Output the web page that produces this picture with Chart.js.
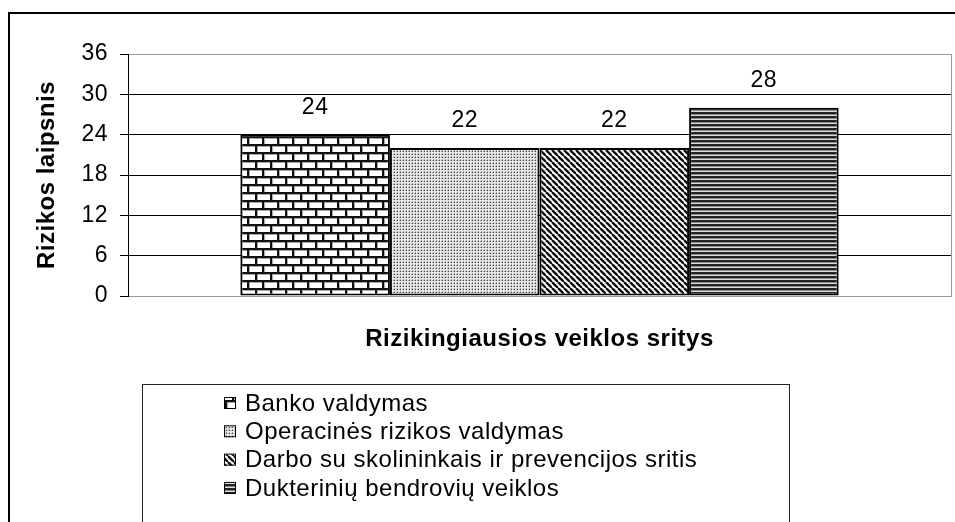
<!DOCTYPE html>
<html>
<head>
<meta charset="utf-8">
<script src="https://cdn.jsdelivr.net/npm/chart.js@4.4.0/dist/chart.umd.min.js"></script>
<style>
  html, body { margin: 0; padding: 0; background: #fff; }
  canvas { display: block; }
</style>
</head>
<body>
<canvas id="chartRizika" width="955" height="522"></canvas>
<script>
// data
const categories = [''];
const seriesNames = [
    'Banko valdymas',
    'Operacinės rizikos valdymas',
    'Darbo su skolininkais ir prevencijos sritis',
    'Dukterinių bendrovių veiklos'
];
const seriesValues = [24, 22, 22, 28];
const yTicks = [0, 6, 12, 18, 24, 30, 36];

const FONT = 'Arial, "Liberation Sans", sans-serif';

// ---- hatch patterns (Excel style) ----
function makeTile(w, h, draw) {
    const c = document.createElement('canvas');
    c.width = w; c.height = h;
    const g = c.getContext('2d');
    draw(g, w, h);
    return document.getElementById('chartRizika').getContext('2d').createPattern(c, 'repeat');
}

const brick = makeTile(15, 16, (g) => {
    g.fillStyle = '#fff'; g.fillRect(0, 0, 15, 16);
    g.fillStyle = '#aaa';
    g.fillRect(0, 2, 15, 1); g.fillRect(0, 10, 15, 1);
    g.fillRect(2, 3, 1, 6); g.fillRect(9, 11, 1, 6);
    g.fillStyle = '#111';
    g.fillRect(0, 0, 15, 2); g.fillRect(0, 8, 15, 2);
    g.fillRect(0, 0, 2, 8); g.fillRect(7, 8, 2, 8);
});

const dots = makeTile(3, 3, (g) => {
    g.fillStyle = '#e6e6e6'; g.fillRect(0, 0, 3, 3);
    g.fillStyle = '#aaa'; g.fillRect(0, 1, 1, 1); g.fillRect(1, 0, 1, 1);
    g.fillStyle = '#444'; g.fillRect(1, 1, 1, 1);
});

const diag = makeTile(6, 6, (g) => {
    g.fillStyle = '#fff'; g.fillRect(0, 0, 6, 6);
    g.strokeStyle = '#111'; g.lineWidth = 2.4;
    for (let k = -6; k <= 6; k += 6) {
        g.beginPath(); g.moveTo(k, 0); g.lineTo(k + 6, 6); g.stroke();
    }
});

const stripes = makeTile(4, 4, (g) => {
    g.fillStyle = '#ddd'; g.fillRect(0, 0, 4, 4);
    g.fillStyle = '#222'; g.fillRect(0, 0, 4, 2);
    g.fillStyle = '#888'; g.fillRect(0, 2, 4, 1);
});

const fills = [brick, dots, diag, stripes];

const datasets = seriesNames.map((name, i) => ({
    label: name,
    data: [seriesValues[i]],
    backgroundColor: fills[i],
    borderColor: '#000',
    borderWidth: 2,
    borderSkipped: false,
    categoryPercentage: 0.727,
    barPercentage: 1
}));

// value labels, frame, plot border and legend box
const decor = {
    id: 'decor',
    beforeDraw(chart) {
        // the original text is rendered slightly wide
        chart.ctx.letterSpacing = '0.5px';
    },
    afterDatasetsDraw(chart) {
        const ctx = chart.ctx;
        const area = chart.chartArea;
        ctx.save();
        // right edge of plot area
        ctx.strokeStyle = '#999';
        ctx.lineWidth = 1;
        ctx.beginPath();
        ctx.moveTo(area.right + 0.5, area.top);
        ctx.lineTo(area.right + 0.5, area.bottom);
        ctx.stroke();
        // value labels
        ctx.fillStyle = '#000';
        ctx.font = '23px ' + FONT;
        ctx.textAlign = 'center';
        ctx.textBaseline = 'middle';
        chart.data.datasets.forEach((ds, i) => {
            const bar = chart.getDatasetMeta(i).data[0];
            ctx.fillText(String(ds.data[0]), bar.x, bar.y - 27);
        });
        ctx.restore();
    },
    afterDraw(chart) {
        const ctx = chart.ctx;
        ctx.save();
        // outer chart frame
        ctx.strokeStyle = '#000';
        ctx.lineWidth = 2;
        ctx.strokeRect(9, 13, 960, 530);
        // legend box
        ctx.lineWidth = 1;
        ctx.strokeStyle = '#222';
        ctx.strokeRect(142.5, 384.5, 647, 160);
        ctx.font = '24px ' + FONT;
        ctx.textAlign = 'left';
        ctx.textBaseline = 'middle';
        chart.data.datasets.forEach((ds, i) => {
            const cy = 403 + i * 28.3;
            ctx.fillStyle = ds.backgroundColor;
            ctx.fillRect(224, cy - 5, 11, 11);
            ctx.strokeStyle = '#000';
            ctx.lineWidth = 1;
            ctx.strokeRect(224.5, cy - 5.5, 11, 11);
            ctx.fillStyle = '#000';
            ctx.fillText(ds.label, 245, cy + 1);
        });
        ctx.restore();
    }
};

new Chart(document.getElementById('chartRizika').getContext('2d'), {
    type: 'bar',
    data: { labels: categories, datasets: datasets },
    plugins: [decor],
    options: {
        responsive: false,
        animation: false,
        layout: { padding: { left: 30, top: 54, right: 4, bottom: 166 } },
        plugins: {
            legend: { display: false },
            tooltip: { enabled: false }
        },
        scales: {
            x: {
                grid: { display: false },
                border: { color: '#999', width: 1 },
                ticks: { display: false },
                title: {
                    display: true,
                    text: 'Rizikingiausios veiklos sritys',
                    color: '#000',
                    font: { family: FONT, size: 24, weight: 'bold' },
                    padding: { top: 0, bottom: 2 }
                },
                afterFit(scale) { scale.height = 60; }
            },
            y: {
                min: 0,
                max: 36,
                afterBuildTicks(scale) { scale.ticks = yTicks.map(v => ({ value: v })); },
                grid: {
                    color: (c) => (c.tick && (c.tick.value === 0 || c.tick.value === 36)) ? '#999' : '#000',
                    tickColor: '#000',
                    tickLength: 8,
                    lineWidth: 1
                },
                border: { color: '#000', width: 1 },
                ticks: {
                    color: '#000',
                    padding: 12,
                    font: { family: FONT, size: 23 }
                },
                title: {
                    display: true,
                    text: 'Rizikos laipsnis',
                    color: '#000',
                    font: { family: FONT, size: 24, weight: 'bold' },
                    padding: { top: 3, bottom: 0 }
                },
                afterFit(scale) { scale.width = 98; }
            }
        }
    }
});
</script>
</body>
</html>
